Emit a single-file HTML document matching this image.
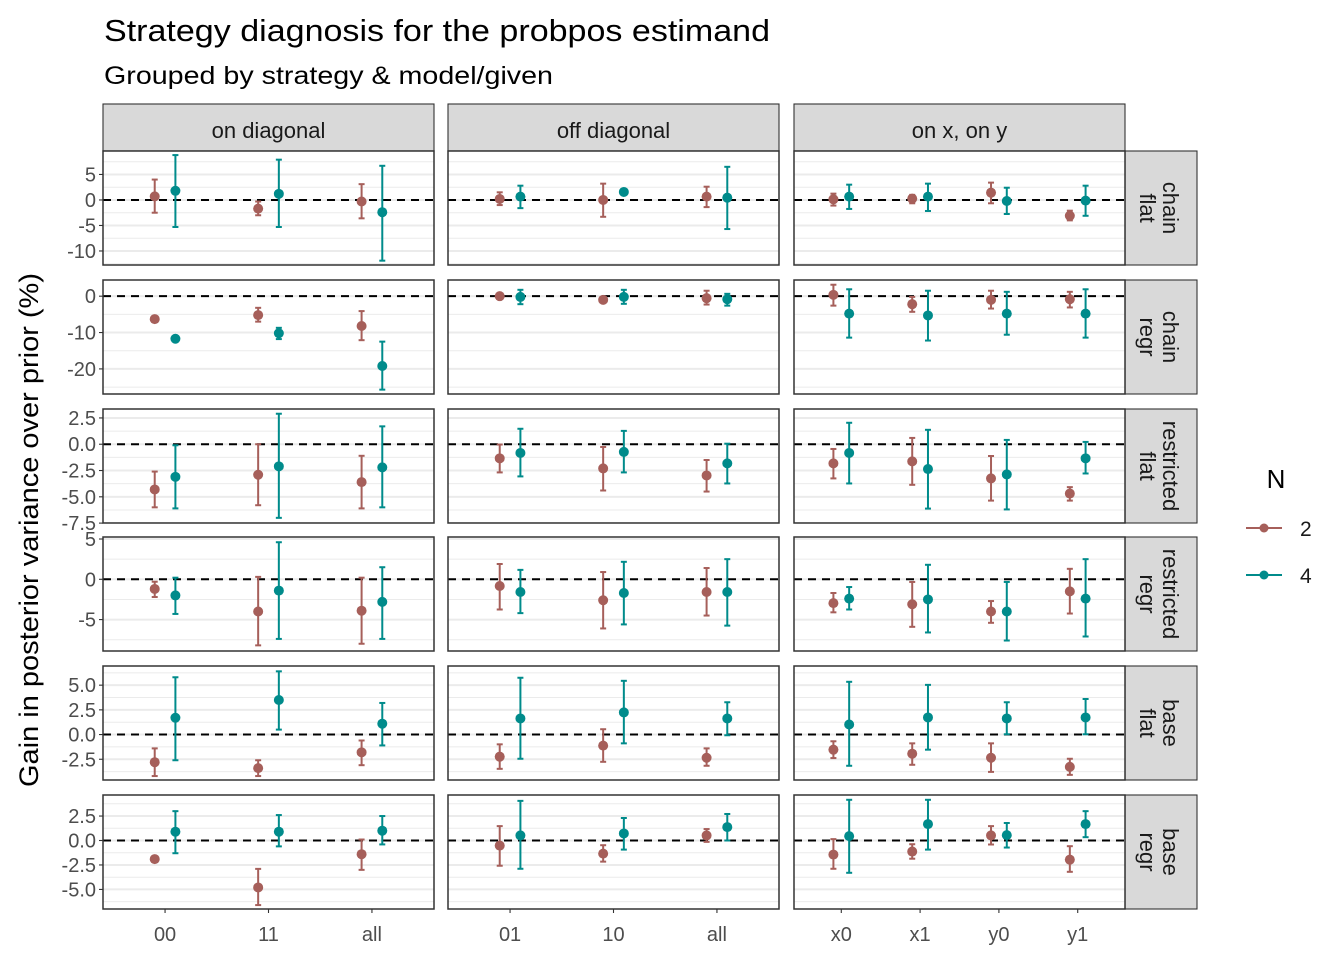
<!DOCTYPE html>
<html><head><meta charset="utf-8"><style>
body{margin:0;background:#fff;}
svg text{font-family:"Liberation Sans",Arial,sans-serif;}
</style></head><body>
<svg id="chart" width="1344" height="960" xmlns="http://www.w3.org/2000/svg">
<text x="104" y="41" font-size="31" textLength="666" lengthAdjust="spacingAndGlyphs" fill="#000">Strategy diagnosis for the probpos estimand</text>
<text x="104" y="84" font-size="25" textLength="449" lengthAdjust="spacingAndGlyphs" fill="#000">Grouped by strategy &amp; model/given</text>
<text transform="translate(38,530) rotate(-90)" text-anchor="middle" font-size="27" textLength="514" lengthAdjust="spacingAndGlyphs" fill="#000">Gain in posterior variance over prior (%)</text>
<g id="panels"></g>
<g>
<text x="1276" y="488" text-anchor="middle" font-size="26">N</text>
<g><line x1="1246" y1="528" x2="1282" y2="528" stroke="#A65F5A" stroke-width="2"/><circle cx="1264" cy="528" r="4.5" fill="#A65F5A"/><text x="1300" y="536" font-size="21" fill="#1a1a1a">2</text></g>
<g><line x1="1246" y1="575" x2="1282" y2="575" stroke="#008B8B" stroke-width="2"/><circle cx="1264" cy="575" r="4.5" fill="#008B8B"/><text x="1300" y="583" font-size="21" fill="#1a1a1a">4</text></g>
</g>
</svg>
<script>
const colLabels = ["on diagonal","off diagonal","on x, on y"];
const rowLabels = [["chain","flat"],["chain","regr"],["restricted","flat"],["restricted","regr"],["base","flat"],["base","regr"]];
const categories = [["00","11","all"],["01","10","all"],["x0","x1","y0","y1"]];
const yDomains = [[-12.75,9.6],[-26.9,4.45],[-7.49,3.35],[-8.9,5.25],[-4.6,6.94],[-7.0,4.65]];
const yTicks = [[5,0,-5,-10],[0,-10,-20],[2.5,0,-2.5,-5,-7.5],[5,0,-5],[5,2.5,0,-2.5],[2.5,0,-2.5,-5]];
const yTickLabels = [["5","0","-5","-10"],["0","-10","-20"],["2.5","0.0","-2.5","-5.0","-7.5"],["5","0","-5"],["5.0","2.5","0.0","-2.5"],["2.5","0.0","-2.5","-5.0"]];
const yMinor = [[7.5,2.5,-2.5,-7.5,-12.5],[-5,-15,-25],[1.25,-1.25,-3.75,-6.25],[2.5,-2.5,-7.5],[6.25,3.75,1.25,-1.25,-3.75],[3.75,1.25,-1.25,-3.75,-6.25]];
// [row][col][cat]
const est2 = [
 [[0.7,-1.7,-0.3],[0.2,0,0.65],[0.13,0.26,1.43,-3.1]],
 [[-6.3,-5.2,-8.2],[0,-1.0,-0.55],[0.37,-2.2,-1.0,-0.85]],
 [[-4.3,-2.9,-3.6],[-1.34,-2.3,-2.97],[-1.82,-1.63,-3.25,-4.69]],
 [[-1.2,-4.0,-3.9],[-0.83,-2.6,-1.58],[-2.96,-3.1,-4.0,-1.5]],
 [[-2.8,-3.4,-1.8],[-2.24,-1.12,-2.35],[-1.53,-1.94,-2.35,-3.27]],
 [[-1.9,-4.8,-1.4],[-0.52,-1.34,0.52],[-1.44,-1.13,0.52,-1.96]]];
const lo2 = [
 [[-2.5,-3,-3.6],[-1.0,-3.3,-1.4],[-1.1,-0.65,-0.65,-4.0]],
 [[-6.5,-7,-12.1],[-0.2,-1.2,-2.3],[-2.6,-4.3,-3.4,-3.1]],
 [[-6,-5.8,-6.1],[-2.68,-4.4,-4.5],[-3.25,-3.86,-5.36,-5.36]],
 [[-2.2,-8.2,-8],[-3.75,-6.1,-4.5],[-4.1,-5.9,-5.4,-4.25]],
 [[-4.2,-4.2,-3.1],[-3.47,-2.76,-3.16],[-2.38,-3.06,-3.78,-4.08]],
 [[-2.0,-6.6,-3.0],[-2.58,-2.16,-0.14],[-2.89,-1.86,-0.41,-3.2]]];
const hi2 = [
 [[4,-0.3,3.1],[1.5,3.2,2.6],[1.24,1.0,3.4,-2.1]],
 [[-6.1,-3.2,-4.1],[0.2,-0.8,1.5],[3.15,-0.2,1.5,1.2]],
 [[-2.6,0,-1.1],[-0.03,-0.26,-1.5],[-0.45,0.6,-1.12,-4.08]],
 [[-0.3,0.3,0.2],[1.9,0.9,1.4],[-1.7,-0.33,-2.7,1.3]],
 [[-1.4,-2.6,-0.6],[-0.99,0.54,-1.4],[-0.68,-0.89,-0.89,-2.45]],
 [[-1.8,-2.9,0.1],[1.47,-0.48,1.17],[0.14,-0.38,1.47,-0.58]]];
const est4 = [
 [[1.8,1.2,-2.4],[0.65,1.57,0.45],[0.65,0.65,-0.2,-0.13]],
 [[-11.7,-10.2,-19.2],[-0.2,-0.2,-0.85],[-4.8,-5.3,-4.8,-4.8]],
 [[-3.1,-2.1,-2.2],[-0.83,-0.73,-1.82],[-0.83,-2.36,-2.87,-1.34]],
 [[-2.0,-1.4,-2.8],[-1.58,-1.7,-1.58],[-2.4,-2.5,-4.0,-2.4]],
 [[1.7,3.5,1.1],[1.63,2.24,1.63],[1.02,1.73,1.63,1.73]],
 [[0.9,0.9,1.0],[0.52,0.72,1.37],[0.45,1.68,0.55,1.68]]];
const lo4 = [
 [[-5.3,-5.3,-11.9],[-1.6,1.2,-5.7],[-1.76,-2.16,-2.75,-3.1]],
 [[-12.1,-11.8,-25.7],[-2.2,-2.1,-2.6],[-11.4,-12.2,-10.6,-11.4]],
 [[-6.1,-7,-6],[-3.06,-2.68,-3.73],[-3.73,-6.12,-6.2,-2.78]],
 [[-4.3,-7.4,-7.4],[-4.2,-5.6,-5.75],[-3.75,-6.6,-7.6,-7.1]],
 [[-2.6,0.5,-1.1],[-2.45,-0.89,-0.07],[-3.16,-1.53,0.03,0.03]],
 [[-1.3,-0.6,-0.4],[-2.89,-0.93,0.0],[-3.3,-0.93,-0.72,0.34]]];
const hi4 = [
 [[8.8,7.9,6.7],[2.8,1.9,6.5],[3.0,3.2,2.4,2.8]],
 [[-11.3,-8.7,-12.5],[1.75,1.75,0.65],[1.9,1.5,1.2,1.9]],
 [[-0.1,2.9,1.7],[1.47,1.27,0.05],[2.04,1.37,0.41,0.22]],
 [[0.2,4.6,1.5],[1.17,2.17,2.5],[-0.96,1.8,-0.33,2.5]],
 [[5.8,6.4,3.2],[5.75,5.44,3.27],[5.34,5.03,3.27,3.6]],
 [[3.0,2.6,2.5],[4.05,2.3,2.71],[4.16,4.16,1.79,3.0]]];

const NS="http://www.w3.org/2000/svg";
const C2="#A65F5A", C4="#008B8B";
const colX=[103,448,794], PW=331;
const rowY=[151,280,409,537,666,795], PH=114;
const root=document.getElementById('panels');
function mk(tag,attrs,parent){const e=document.createElementNS(NS,tag);for(const k in attrs)e.setAttribute(k,attrs[k]);(parent||root).appendChild(e);return e;}
function yScale(r,v){const d=yDomains[r];return rowY[r]+PH-(v-d[0])/(d[1]-d[0])*PH;}
function xScale(c,i,off){const n=categories[c].length;const step=PW/(n-1+1.2);return colX[c]+step*(0.6+i+off);}

colLabels.forEach((l,c)=>{
 const g=mk('g',{});
 
 
 mk('rect',{x:colX[c],y:104,width:PW,height:47,fill:'#d9d9d9',stroke:'#333',"stroke-width":1.1},g);
 const t=mk('text',{x:colX[c]+PW/2,y:138,"text-anchor":"middle","font-size":22,fill:'#1a1a1a'},g);t.textContent=l;
});
rowLabels.forEach((l,r)=>{
 const g=mk('g',{});
 
 
 mk('rect',{x:1125,y:rowY[r],width:72,height:PH,fill:'#d9d9d9',stroke:'#333',"stroke-width":1.1},g);
 const cx=1161,cy=rowY[r]+PH/2;
 const t1=mk('text',{transform:`translate(${cx+2},${cy}) rotate(90)`,"text-anchor":"middle","font-size":22,fill:'#1a1a1a'},g);t1.textContent=l[0];
 const t2=mk('text',{transform:`translate(${cx-21},${cy}) rotate(90)`,"text-anchor":"middle","font-size":22,fill:'#1a1a1a'},g);t2.textContent=l[1];
});

for(let r=0;r<6;r++){
 yTicks[r].forEach((v,i)=>{
  const y=yScale(r,v);
  const tk=mk('line',{x1:99,x2:103,y1:y,y2:y,stroke:'#333',"stroke-width":1.1});
  
  
  const t=mk('text',{x:96,y:y+7,"text-anchor":"end","font-size":20,fill:'#4d4d4d'});
  
  
  t.textContent=yTickLabels[r][i];
 });
 for(let c=0;c<3;c++){
  const g=mk('g',{});
  
  
  mk('rect',{x:colX[c],y:rowY[r],width:PW,height:PH,fill:'#fff'},g);
  const cp='cp'+r+c;
  const cl=mk('clipPath',{id:cp},g);mk('rect',{x:colX[c],y:rowY[r],width:PW,height:PH},cl);
  const inner=mk('g',{"clip-path":`url(#${cp})`},g);
  yMinor[r].forEach(v=>{const y=yScale(r,v);mk('line',{x1:colX[c],x2:colX[c]+PW,y1:y,y2:y,stroke:'#ebebeb',"stroke-width":1},inner);});
  yTicks[r].forEach(v=>{const y=yScale(r,v);mk('line',{x1:colX[c],x2:colX[c]+PW,y1:y,y2:y,stroke:'#ebebeb',"stroke-width":2},inner);});
  const z=yScale(r,0);
  const ref=mk('line',{x1:colX[c],x2:colX[c]+PW,y1:z,y2:z,stroke:'#000',"stroke-width":2,"stroke-dasharray":"8,6"},inner);
  
  
  categories[c].forEach((cat,i)=>{
   [[est2,lo2,hi2,C2,-0.1,'n2'],[est4,lo4,hi4,C4,0.1,'n4']].forEach(s=>{
    const x=xScale(c,i,s[4]);
    const yl=yScale(r,s[1][r][c][i]),yh=yScale(r,s[2][r][c][i]),ye=yScale(r,s[0][r][c][i]);
    const eg=mk('g',{},inner);
    
    
    mk('line',{x1:x,x2:x,y1:yl,y2:yh,stroke:s[3],"stroke-width":2},eg);
    mk('line',{x1:x-3,x2:x+3,y1:yl,y2:yl,stroke:s[3],"stroke-width":2},eg);
    mk('line',{x1:x-3,x2:x+3,y1:yh,y2:yh,stroke:s[3],"stroke-width":2},eg);
    mk('circle',{cx:x,cy:ye,r:5,fill:s[3]},eg);
   });
  });
  mk('rect',{x:colX[c],y:rowY[r],width:PW,height:PH,fill:'none',stroke:'#333',"stroke-width":1.5},g);
 }
}
for(let c=0;c<3;c++){
 categories[c].forEach((cat,i)=>{
  const x=xScale(c,i,0);
  const by=rowY[5]+PH;
  const tk=mk('line',{x1:x,x2:x,y1:by,y2:by+4,stroke:'#333',"stroke-width":1.1});
  
  
  const t=mk('text',{x:x,y:941,"text-anchor":"middle","font-size":20,fill:'#4d4d4d'});
  
  
  t.textContent=cat;
 });
}
</script>
</body></html>
